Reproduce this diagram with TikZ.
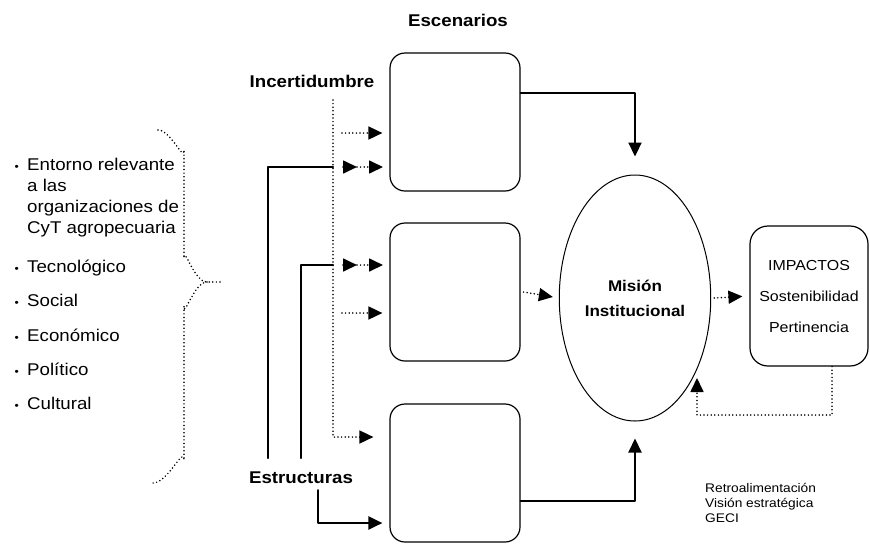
\documentclass[tikz,border=0pt]{standalone}
\usepackage{fontspec}
\setmainfont{Liberation Sans}[FakeStretch=1.1]
\usetikzlibrary{arrows.meta,shapes.geometric,positioning}

\tikzset{
  caja/.style={draw, line width=1.2pt, rounded corners=15pt,
    minimum width=130pt, minimum height=138pt},
  punta/.style={-{Triangle[length=14pt,width=13pt]}},
  solida/.style={line width=2.2pt},
  punteada/.style={line width=1.7pt, dash pattern=on 0pt off 3.6pt},
  rotulo/.style={font=\bfseries\fontsize{17}{20}\selectfont, inner sep=0pt},
  lista/.style={anchor=base west, align=left, inner sep=0pt,
    font=\fontsize{17}{21}\selectfont},
  vineta/.style={anchor=base east, inner sep=0pt, font=\fontsize{11}{13}\selectfont}
}

\begin{document}
\begin{tikzpicture}[x=1pt, y=-1pt, line cap=round, line join=round]

  \useasboundingbox (0,0) rectangle (870,550);

  % ------------------------------------------------------------------
  % Escenarios (three rounded boxes)
  % ------------------------------------------------------------------
  \node[rotulo] (titulo) at (458,20) {Escenarios};
  \node[caja] (esc1) at (455,122) {};
  \node[caja] (esc2) at (455,292) {};
  \node[caja] (esc3) at (455,473) {};

  % ------------------------------------------------------------------
  % Mision and impactos
  % ------------------------------------------------------------------
  \node[draw, ellipse, line width=1pt, minimum width=148pt, minimum height=246pt,
        align=center, font=\bfseries\fontsize{15.5}{25}\selectfont]
        (mision) at (635,298) {Misión\\Institucional};
  \node[draw, line width=1.2pt, rounded corners=18pt, minimum width=118pt,
        minimum height=140pt, align=center, font=\fontsize{14.5}{31}\selectfont]
        (impactos) at (809,296) {IMPACTOS\\Sostenibilidad\\Pertinencia};

  \draw[solida, punta] ([yshift=29pt]esc1.east) -| ([yshift=18pt]mision.north);
  \draw[solida, punta] ([yshift=-28pt]esc3.east) -| ([yshift=-17pt]mision.south);
  \draw[punteada, punta, shorten >=6pt] ([xshift=3pt]esc2.east) -- (mision.west);
  \draw[punteada, punta, shorten >=7pt] ([xshift=3pt]mision.east) -- (impactos.west);

  % feedback loop
  \coordinate (retro) at (697,415);
  \coordinate (retrofin) at (697,378);
  \draw[punteada, punta] ([xshift=23pt]impactos.south) |- (retro) -- (retrofin);

  % ------------------------------------------------------------------
  % Incertidumbre (dotted) and Estructuras (solid)
  % ------------------------------------------------------------------
  \node[rotulo] (incert) at (312,81) {Incertidumbre};
  \node[rotulo] (estruct) at (301,478) {Estructuras};

  \coordinate (inc0) at (333,100);
  \coordinate (inc1) at (333,437);
  \draw[punteada, punta] (inc0) -- (inc1) -- ([xshift=-16pt,yshift=36pt]esc3.west);
  \draw[punteada, punta] (342,133) -- ([xshift=-7pt,yshift=-11pt]esc1.west);
  \draw[punteada, punta] (342,313) -- ([xshift=-7pt,yshift=-21pt]esc2.west);

  % estructuras lines joining the dotted line
  \coordinate (estA) at (268,458);
  \coordinate (estB) at (301,458);
  \draw[solida] (estA) |- (333,167);
  \draw[solida] (estB) |- (333,265);
  \foreach \y in {167,265} {
    \draw[punteada, punta] (343,\y) -- (357,\y);
    \draw[punteada, punta] (357,\y) -- (383,\y);
  }
  \draw[solida, punta, shorten >=7pt] ([xshift=17pt,yshift=-6pt]estruct.south)
     |- ([yshift=-50pt]esc3.west);

  % ------------------------------------------------------------------
  % Entorno list and dotted brace
  % ------------------------------------------------------------------
  \node[lista] (entorno) at (27,233) {Entorno relevante\\a las\\organizaciones de\\CyT agropecuaria};
  \node[vineta] at (19,170) {•};
  \node[lista] (tecno) at (27,272) {Tecnológico};
  \node[lista] (social) at (27,306) {Social};
  \node[lista] (econo) at (27,341) {Económico};
  \node[lista] (poli) at (27,375) {Político};
  \node[lista] (cult) at (27,409) {Cultural};
  \foreach \n in {tecno,social,econo,poli,cult}
    \node[vineta] at ([xshift=-8pt]\n.base west) {•};

  \draw[punteada] (158,130) to[out=0,in=-90] (184,150) -- (184,258)
     to[out=90,in=180] (207,282) -- (220,282);
  \draw[punteada] (207,282) to[out=180,in=-90] (184,306) -- (184,460)
     to[out=90,in=0] (153,483);

  % ------------------------------------------------------------------
  % Leyenda
  % ------------------------------------------------------------------
  \node[anchor=north west, align=left, inner sep=0pt, font=\fontsize{12.5}{15}\selectfont]
     (leyenda) at (705,483) {Retroalimentación\\Visión estratégica\\GECI};

\end{tikzpicture}
\end{document}
